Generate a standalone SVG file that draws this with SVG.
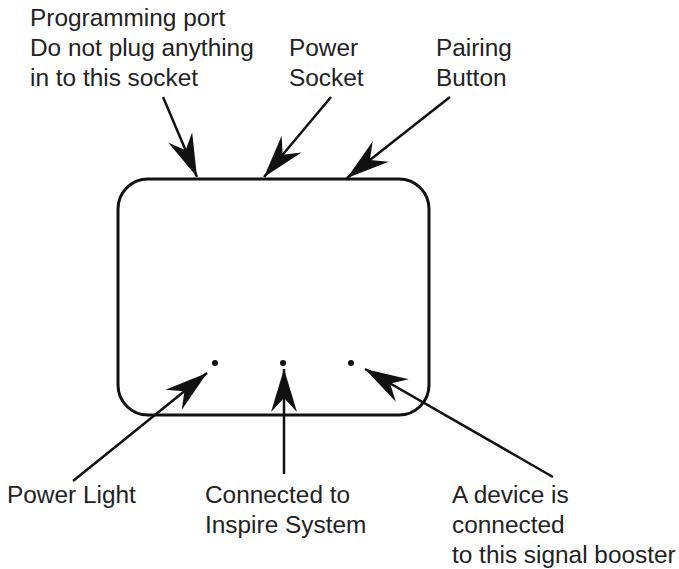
<svg xmlns="http://www.w3.org/2000/svg" width="679" height="569" viewBox="0 0 679 569">
<style>
.t{font-family:"Liberation Sans",Arial,sans-serif;font-size:24.4px;fill:#222}
.c{stroke:#111;stroke-width:2.5;fill:none;marker-end:url(#ah)}
.box{fill:#fff;stroke:#111;stroke-width:3}
.dot{fill:#111}
</style>
<defs>
<marker id="ah" markerUnits="userSpaceOnUse" markerWidth="50" markerHeight="32" viewBox="-45 -16 47 32" refX="0" refY="0" orient="auto">
<path d="M0,0 L-43,-13 L-29,0 L-43,13 Z" fill="#111"/>
</marker>
</defs>
<rect width="679" height="569" fill="#fff"/>
<g id="device">
<rect class="box" x="118" y="179" width="311" height="236" rx="30" ry="30"/>
<circle class="dot" cx="215" cy="363" r="3"/>
<circle class="dot" cx="283" cy="363" r="3"/>
<circle class="dot" cx="351" cy="363" r="3"/>
</g>
<g id="connectors">
<path class="c" d="M163,97 L197,177"/>
<path class="c" d="M331,97 L264,177"/>
<path class="c" d="M450,97 L347,178"/>
<path class="c" d="M73,481 L207,373"/>
<path class="c" d="M284,474 L284,369"/>
<path class="c" d="M553,477 L365,369"/>
</g>
<g id="label-programming">
<text class="t" x="30" y="26">Programming port</text>
<text class="t" x="30" y="56">Do not plug anything</text>
<text class="t" x="30" y="86">in to this socket</text>
</g>
<g id="label-power-socket">
<text class="t" x="289" y="56">Power</text>
<text class="t" x="289" y="86">Socket</text>
</g>
<g id="label-pairing">
<text class="t" x="436" y="56">Pairing</text>
<text class="t" x="436" y="86">Button</text>
</g>
<g id="label-power-light">
<text class="t" x="7" y="503">Power Light</text>
</g>
<g id="label-connected">
<text class="t" x="205" y="503">Connected to</text>
<text class="t" x="205" y="533">Inspire System</text>
</g>
<g id="label-device">
<text class="t" x="452" y="503">A device is</text>
<text class="t" x="452" y="533">connected</text>
<text class="t" x="452" y="563">to this signal booster</text>
</g>
</svg>
